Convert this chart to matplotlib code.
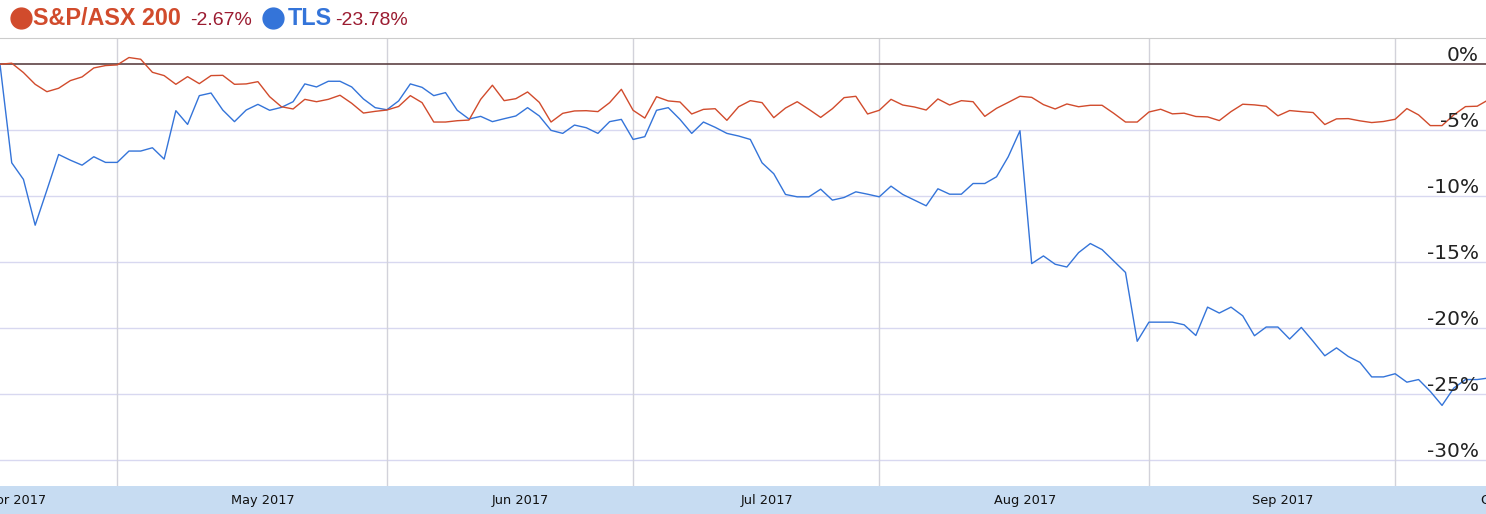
import matplotlib.pyplot as plt
from matplotlib.lines import Line2D

# daily % change since start, one value per trading day
asx200 = [0, 0.08, -0.63, -1.52, -2.08, -1.82, -1.24, -0.96, -0.28, -0.10,
          -0.05, 0.51, 0.38, -0.61, -0.86, -1.52, -0.94, -1.47, -0.86, -0.84,
          -1.52, -1.49, -1.32, -2.46, -3.22, -3.39, -2.66, -2.84, -2.66, -2.35,
          -2.96, -3.70, -3.57, -3.47, -3.20, -2.38, -2.91, -4.38, -4.38, -4.28,
          -4.23, -2.66, -1.59, -2.76, -2.61, -2.10, -2.89, -4.38, -3.72, -3.54,
          -3.52, -3.59, -2.91, -1.90, -3.49, -4.08, -2.46, -2.78, -2.86, -3.77,
          -3.42, -3.37, -4.25, -3.22, -2.76, -2.91, -4.05, -3.32, -2.84, -3.42,
          -4.03, -3.37, -2.53, -2.43, -3.77, -3.49, -2.66, -3.09, -3.24, -3.47,
          -2.63, -3.09, -2.76, -2.84, -3.95, -3.34, -2.89, -2.43, -2.51, -3.06,
          -3.39, -3.01, -3.22, -3.11, -3.11, -3.72, -4.38, -4.38, -3.62, -3.41,
          -3.76, -3.71, -3.96, -3.99, -4.27, -3.59, -3.03, -3.08, -3.18, -3.91,
          -3.51, -3.59, -3.66, -4.57, -4.14, -4.12, -4.29, -4.42, -4.34, -4.17,
          -3.36, -3.84, -4.65, -4.65, -3.84, -3.21, -3.18, -2.67]

tls = [0, -7.47, -8.73, -12.2, -9.54, -6.84, -7.27, -7.65, -7.01, -7.44,
       -7.44, -6.58, -6.58, -6.33, -7.19, -3.52, -4.56, -2.38, -2.18, -3.47,
       -4.35, -3.47, -3.04, -3.49, -3.27, -2.84, -1.49, -1.72, -1.29, -1.29,
       -1.72, -2.63, -3.29, -3.45, -2.78, -1.49, -1.75, -2.38, -2.15, -3.49,
       -4.15, -3.95, -4.35, -4.13, -3.92, -3.29, -3.92, -5.01, -5.24, -4.61,
       -4.81, -5.24, -4.35, -4.18, -5.70, -5.49, -3.49, -3.29, -4.18, -5.24,
       -4.38, -4.78, -5.24, -5.44, -5.70, -7.47, -8.30, -9.87, -10.05, -10.05,
       -9.47, -10.30, -10.10, -9.67, -9.85, -10.05, -9.24, -9.87, -10.30, -10.73,
       -9.44, -9.85, -9.85, -9.04, -9.04, -8.53, -7.01, -5.04, -15.11, -14.53,
       -15.16, -15.37, -14.28, -13.59, -14.05, -14.91, -15.78, -21.0, -19.55, -19.55,
       -19.55, -19.75, -20.56, -18.41, -18.86, -18.41, -19.07, -20.58, -19.92, -19.92,
       -20.83, -19.95, -21.0, -22.1, -21.5, -22.15, -22.6, -23.7, -23.7, -23.46,
       -24.1, -23.9, -24.8, -25.86, -24.55, -23.9, -23.9, -23.78]

month_names = ["Apr 2017", "May 2017", "Jun 2017", "Jul 2017",
               "Aug 2017", "Sep 2017", "Oct 2017"]
# trading-day index where each month begins (first and last lie off screen)
month_starts = [-9, 10, 33, 54, 75, 98, 119, 137]
y_ticks = [0, -5, -10, -15, -20, -25, -30]

RED = "#d14b2c"
BLUE = "#3474d9"
VALUE_RED = "#9b1b30"

W, H = 1486, 514
fig = plt.figure(figsize=(W / 100, H / 100), dpi=100)
ax = fig.add_axes([0, 28 / H, 1, 448 / H])
bar = fig.add_axes([0, 0, 1, 28 / H])

days = range(len(tls))

for v in y_ticks[1:]:
    ax.axhline(v, color="#d8d8f0", lw=1, zorder=1)
for m in month_starts[1:-1]:
    ax.axvline(m, color="#d2d2da", lw=1, zorder=1)
ax.axhline(0, color="#5e4244", lw=1.2, zorder=2)

ax.plot(days, tls, color=BLUE, lw=1.0, zorder=3)
ax.plot(days, asx200, color=RED, lw=1.0, zorder=3)

ax.set_xlim(0, 126.75)
ax.set_ylim(-31.97, 1.99)
ax.set_xticks([])
ax.set_yticks([])
for side in ["left", "right", "bottom"]:
    ax.spines[side].set_visible(False)
ax.spines["top"].set_color("#cccccc")

for v in y_ticks:
    ax.annotate(f"{v}%", xy=(1, v), xycoords=("axes fraction", "data"),
                xytext=(-7, 3), textcoords="offset pixels",
                ha="right", va="baseline", fontsize=14.5,
                color="#222222", zorder=5)

# month strip under the plot
bar.set_facecolor("#c7dcf2")
bar.set_xlim(ax.get_xlim())
bar.set_ylim(0, 1)
bar.set_xticks([])
bar.set_yticks([])
for s in bar.spines.values():
    s.set_visible(False)
for i, name in enumerate(month_names):
    mid = (month_starts[i] + month_starts[i + 1]) / 2 + 0.9
    bar.text(mid, 0.47, name, ha="center", va="center",
             fontsize=9.3, color="#111111")

# legend row
legend = [("S&P/ASX 200", RED, "-2.67%", 21, 33, 190),
          ("TLS", BLUE, "-23.78%", 272.5, 288, 335)]
for label, color, change, cx, tx, vx in legend:
    fig.add_artist(Line2D([cx / W], [1 - 17.5 / H], marker="o",
                          markersize=15, color=color,
                          transform=fig.transFigure))
    fig.text(tx / W, 1 - 25 / H, label, fontsize=16.8, fontweight="bold",
             color=color, family="Liberation Sans", va="baseline")
    fig.text(vx / W, 1 - 25 / H, change, fontsize=14,
             color=VALUE_RED, family="Liberation Sans", va="baseline")

fig.savefig("out.png", dpi=100)
